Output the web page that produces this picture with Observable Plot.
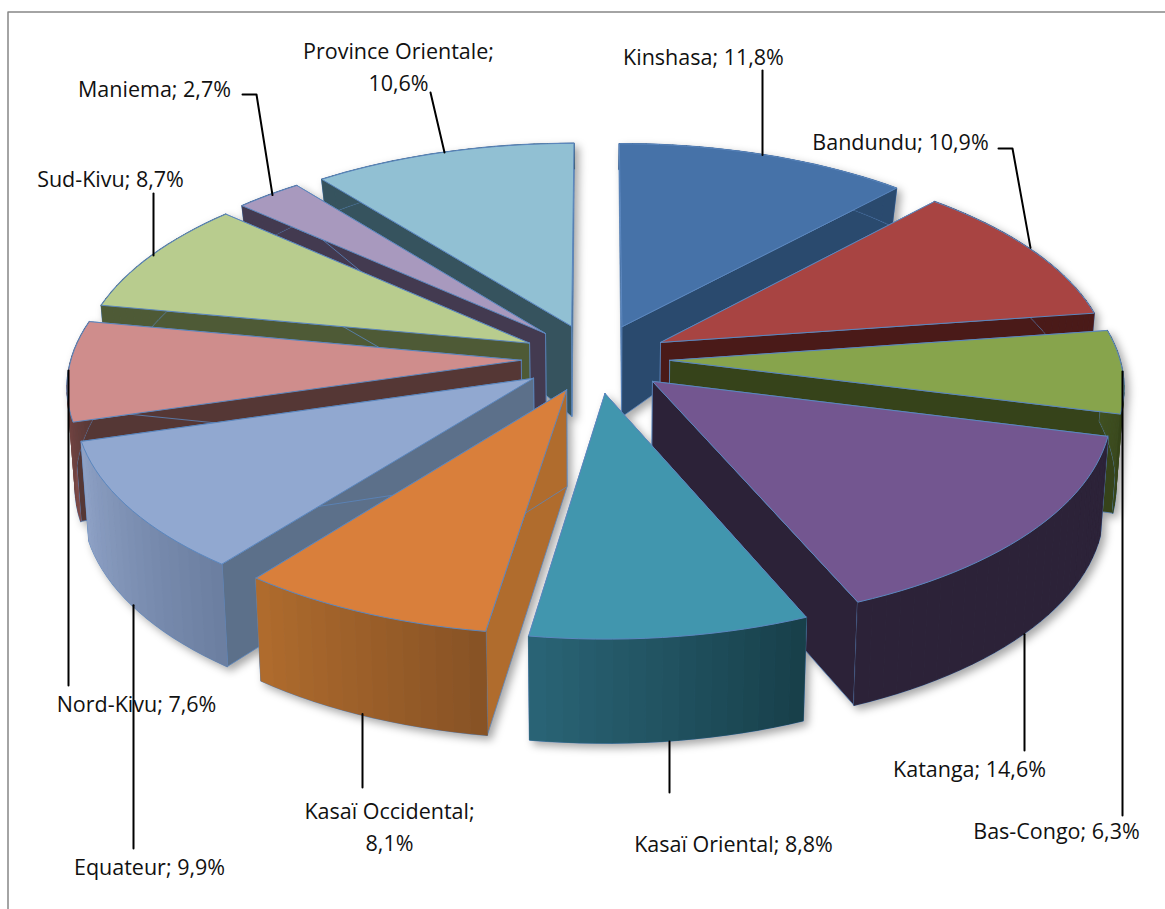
<!DOCTYPE html>
<html><head><meta charset="utf-8">
<script src="https://cdn.jsdelivr.net/npm/d3@7"></script>
<script src="https://cdn.jsdelivr.net/npm/@observablehq/plot@0.6"></script>
<style>html,body{margin:0;padding:0;background:#fff;overflow:hidden}svg{display:block}</style>
</head><body><div id="chart"></div>
<script>
const regions = ["Kinshasa","Bandundu","Bas-Congo","Katanga","Kasaï Oriental","Kasaï Occidental","Equateur","Nord-Kivu","Sud-Kivu","Maniema","Province Orientale"];
const shares = [11.8,10.9,6.3,14.6,8.8,8.1,9.9,7.6,8.7,2.7,10.6];
const labels = ["Kinshasa; 11,8%","Bandundu; 10,9%","Bas-Congo; 6,3%","Katanga; 14,6%","Kasaï Oriental; 8,8%","Kasaï Occidental;\n8,1%","Equateur; 9,9%","Nord-Kivu; 7,6%","Sud-Kivu; 8,7%","Maniema; 2,7%","Province Orientale;\n10,6%"];
const explode = [.165,.165,.165,.165,.165,.16,.165,.165,.165,.165,.165];
const topColors = ["#4672a8","#a84442","#87a44c","#735690","#4196ae","#d97f3b","#91a8d0","#cf8d8c","#b8cc8e","#a899be","#91c0d3"];
const sideColors = ["#2a4a6e","#4a1a18","#36431a","#2c2238","#1f4f5e","#b06c2d","#5c708a","#553735","#4e5a36","#433a50","#36535e"];
const arcFrom = ["#2a4a6e","#4a1a18","#3f5020","#2c2238","#2a6476","#b06c2d","#8fa2c6","#7f4a48","#4e5a36","#433a50","#36535e"];
const arcTo = ["#2a4a6e","#4a1a18","#36431a","#2c2238","#173f49","#875225","#6b7ea0","#553735","#4e5a36","#433a50","#36535e"];

// Layout of the annotations, separate from the data
const labelX = [703,900,1056,969,733,389,149,136,110,154,398];
const labelY = [54,139,828,766,841,824,864,701,176,86,64];
const leaderX = [762,1030,1122,1024,669,362,133,68,153,272,444];
const leaderEdge = ["top","top","top","bottom","bottom","bottom","bottom","top","top","top","top"];
const leaderEnd = [[[762,70]],[[1012,148],[998,148]],[[1122,815]],[[1024,750]],[[669,792]],[[362,787]],[[133,848]],[[68,685]],[[153,193]],[[256,94],[242,94]],[[430,92]]];
const leaderTop = {2:371,7:370};

// Projection of the tilted pie
const cx=595, cy=358, R=450, S=210, k=.111;
const wall = d3.scaleLinear().domain([140,186,323,411,640]).range([25,37,90,99,104]);
const project = (X,Y) => { const w=1-k*Y; return [cx+R*X/w, cy+S*Y/w]; };
const drop = ([x,y]) => [cx+(x-cx)*.985, y+wall(y)];

const total = d3.sum(shares);
const cum = d3.cumsum(shares);
const slices = regions.map((r,i)=>{
  const a0=(i?cum[i-1]:0)/total*2*Math.PI, a1=cum[i]/total*2*Math.PI, m=(a0+a1)/2, e=explode[i];
  const ox=e*Math.sin(m), oy=-e*Math.cos(m);
  const n=Math.max(6,Math.round((a1-a0)*30));
  const arc=d3.range(n+1).map(j=>{const a=a0+(a1-a0)*j/n; return project(ox+Math.sin(a),oy-Math.cos(a));});
  return {i,r,apex:project(ox,oy),arc,depth:oy};
});

const polys=[]; let pid=0;
const addPoly=(pts,fill,stroke,sw)=>{const id=pid++; [...pts,pts[0]].forEach(p=>polys.push({id,x:p[0],y:p[1],fill,stroke,sw}));};
const edge="#5b87bf";
slices.slice().sort((a,b)=>a.depth-b.depth).forEach(s=>{
  const {i,apex,arc}=s, first=arc[0], last=arc[arc.length-1];
  addPoly([apex,first,drop(first),drop(apex)],sideColors[i],edge,.8);
  addPoly([apex,last,drop(last),drop(apex)],sideColors[i],edge,.8);
  addPoly([...arc,...arc.map(drop).reverse()],edge,edge,1.6);
  const c=d3.interpolateRgb(arcFrom[i],arcTo[i]);
  const left=arc[0][0]<arc[arc.length-1][0];
  for(let j=0;j<arc.length-1;j++){
    const t=(left?j+.5:arc.length-1.5-j)/(arc.length-1), col=c(t);
    addPoly([arc[j],arc[j+1],drop(arc[j+1]),drop(arc[j])],col,col,.9);
  }
  addPoly([apex,...arc],topColors[i],edge,1);
});

const leaders=[];
slices.forEach(s=>{
  const {i,arc}=s, x=leaderX[i];
  const pts=leaderEdge[i]==="top"?arc:arc.map(drop);
  const hit=d3.least(pts,p=>Math.abs(p[0]-x));
  const start=[x, leaderTop[i]??hit[1]];
  [start,...leaderEnd[i]].forEach(p=>leaders.push({i,x:p[0],y:p[1]}));
});

const labelRows=labels.map((t,i)=>({t,x:labelX[i],y:labelY[i]}));
const frame=[{x:7.5,y:909},{x:7.5,y:11.5},{x:1165,y:11.5}];

const plot=Plot.plot({
  width:1165,height:909,margin:0,
  x:{domain:[0,1165],range:[0,1165],axis:null},
  y:{domain:[0,909],range:[0,909],axis:null},
  marks:[
    Plot.line(frame,{x:"x",y:"y",stroke:"#868686",strokeWidth:1.5}),
    Plot.line(polys,{x:"x",y:"y",z:"id",fill:"fill",stroke:"stroke",strokeWidth:"sw",strokeLinejoin:"round",curve:"linear",imageFilter:"drop-shadow(4px 4px 4px rgba(0,0,0,.35))"}),
    Plot.line(leaders,{x:"x",y:"y",z:"i",stroke:"#000",strokeWidth:2,curve:"linear"}),
    Plot.text(labelRows,{x:"x",y:"y",text:"t",fontSize:21.5,fontFamily:"Open Sans",fill:"#111",lineHeight:1.53,textAnchor:"middle"})
  ]
});
document.getElementById("chart").appendChild(plot);
</script></body></html>
